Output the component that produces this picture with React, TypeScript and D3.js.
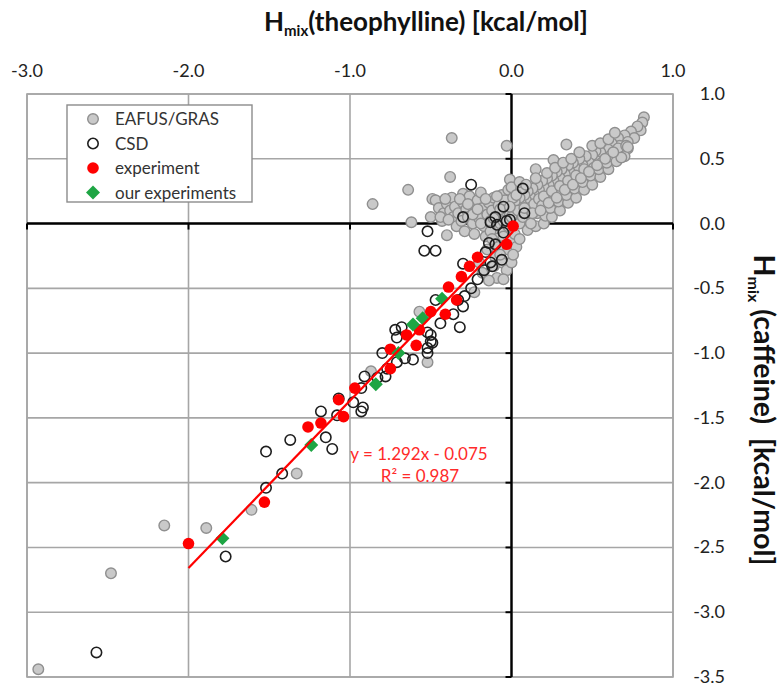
import * as d3 from "d3";

// EAFUS/GRAS coformers [theophylline, caffeine] in kcal/mol
const eafusGras: [number, number][] = [
  [0.82, 0.82], [0.81, 0.78], [0.8, 0.72], [0.78, 0.75], [0.74, 0.71], [0.76, 0.66], [0.7, 0.68], [0.72, 0.63],
  [0.72, 0.58], [0.66, 0.66], [0.68, 0.55], [0.67, 0.6], [0.62, 0.62], [0.64, 0.52], [0.58, 0.56], [0.6, 0.57],
  [0.57, 0.5], [0.55, 0.55], [0.52, 0.56], [0.53, 0.48], [0.5, 0.53], [0.48, 0.47], [0.46, 0.52], [0.44, 0.45],
  [0.42, 0.5], [0.4, 0.42], [0.38, 0.47], [0.36, 0.4], [0.35, 0.45], [0.33, 0.38], [0.31, 0.42], [0.3, 0.35],
  [0.28, 0.4], [0.26, 0.33], [0.25, 0.37], [0.23, 0.3], [0.22, 0.35], [0.2, 0.28], [0.19, 0.33], [0.17, 0.26],
  [0.16, 0.3], [0.14, 0.22], [0.13, 0.27], [0.12, 0.2], [0.1, 0.25], [0.09, 0.18], [0.08, 0.22], [0.06, 0.15],
  [0.05, 0.2], [0.03, 0.12], [0.02, 0.17],
  [0.34, 0.61], [0.26, 0.49], [0.15, 0.42], [-0.37, 0.66], [-0.03, 0.6], [-0.01, 0.34], [-0.38, 0.36],
  [-0.64, 0.26], [-0.49, 0.19], [-0.86, 0.15], [-0.62, 0.01], [-0.4, -0.09], [-0.52, -1.07], [-0.87, -1.14],
  [-0.57, -0.68], [-0.09, -0.42],
  [-2.15, -2.33], [-1.89, -2.35], [-2.48, -2.7], [-2.93, -3.44], [-1.61, -2.21], [-1.33, -1.93],
  [-0.5, 0.05], [-0.47, 0.18], [-0.45, 0.12], [-0.43, 0.02], [-0.42, 0.08], [-0.4, 0.15], [-0.38, 0.1],
  [-0.37, 0.2], [-0.36, 0.05], [-0.35, 0.13], [-0.34, -0.02], [-0.33, 0.08], [-0.31, 0.02], [-0.3, 0.16],
  [-0.3, 0.23], [-0.29, -0.06], [-0.28, 0.11], [-0.27, 0.05], [-0.26, 0.21], [-0.25, 0.14], [-0.24, 0.0],
  [-0.23, -0.08], [-0.22, 0.09], [-0.21, 0.18], [-0.2, 0.04], [-0.19, 0.24], [-0.18, 0.12], [-0.17, -0.02],
  [-0.16, -0.1], [-0.15, 0.07], [-0.14, 0.16], [-0.13, 0.02], [-0.12, 0.1], [-0.11, 0.2], [-0.1, -0.04],
  [-0.09, 0.05], [-0.08, 0.14], [-0.07, 0.0], [-0.06, 0.09], [-0.06, 0.22], [-0.05, -0.06], [-0.04, 0.04],
  [-0.03, 0.12], [-0.02, -0.02], [-0.02, 0.26], [-0.01, 0.07], [-0.04, 0.18],
  [-0.44, 0.05], [-0.41, 0.19], [-0.39, 0.03], [-0.32, 0.19], [-0.27, 0.15], [-0.24, 0.07], [-0.21, 0.11],
  [-0.19, 0.0], [-0.16, 0.19], [-0.13, -0.06], [-0.11, 0.04], [-0.09, 0.21], [-0.07, 0.11], [-0.05, 0.02],
  [-0.12, -0.12], [-0.08, -0.18], [-0.05, -0.1], [-0.02, -0.2], [0.0, -0.12], [-0.15, -0.2], [-0.1, -0.26],
  [-0.06, -0.3], [-0.03, -0.36], [0.0, -0.3], [-0.2, -0.3], [-0.18, -0.38], [-0.14, -0.44], [-0.05, -0.43],
  [-0.23, -0.53], [0.02, -0.08], [0.03, -0.18], [0.05, -0.12], [-0.11, -0.33], [-0.07, -0.24], [0.01, -0.24],
  [0.0, 0.05], [0.01, 0.2], [0.0, 0.28], [0.05, 0.0], [0.04, 0.1], [0.06, 0.27], [0.05, 0.32], [0.1, -0.05],
  [0.1, 0.05], [0.11, 0.12], [0.09, 0.3], [0.15, -0.02], [0.16, 0.08], [0.14, 0.15], [0.15, 0.35], [0.17, 0.19],
  [0.2, 0.0], [0.21, 0.06], [0.19, 0.14], [0.2, 0.21], [0.22, 0.39], [0.25, 0.05], [0.24, 0.12], [0.26, 0.18],
  [0.25, 0.25], [0.27, 0.43], [0.3, 0.1], [0.29, 0.17], [0.31, 0.23], [0.3, 0.29], [0.32, 0.47], [0.35, 0.16],
  [0.34, 0.22], [0.36, 0.28], [0.35, 0.33], [0.37, 0.5], [0.4, 0.2], [0.39, 0.27], [0.41, 0.33], [0.4, 0.37],
  [0.42, 0.55], [0.45, 0.26], [0.44, 0.32], [0.46, 0.38], [0.45, 0.42], [0.5, 0.3], [0.49, 0.37], [0.51, 0.43],
  [0.5, 0.6], [0.55, 0.36], [0.54, 0.42], [0.56, 0.47], [0.55, 0.62], [0.6, 0.42], [0.59, 0.47], [0.61, 0.52],
  [0.6, 0.65], [0.65, 0.48], [0.66, 0.58], [0.64, 0.7], [0.7, 0.52], [0.71, 0.6], [0.68, 0.51], [0.72, 0.59],
  [0.07, 0.05], [0.12, 0.0], [0.08, 0.12], [0.03, 0.22], [-0.01, 0.13], [0.13, 0.08], [0.18, 0.1], [0.23, 0.16],
  [0.28, 0.2], [0.33, 0.26], [0.38, 0.3], [0.43, 0.35], [0.48, 0.4], [0.53, 0.45], [0.58, 0.5], [0.63, 0.55],
];

// CSD cocrystals
const csd: [number, number][] = [
  [-0.25, 0.3], [0.07, 0.27], [-0.05, 0.13], [-0.1, 0.05], [-0.3, 0.05], [0.08, 0.08], [-0.01, 0.03],
  [-0.13, 0.01], [-0.03, 0.02], [-0.09, -0.01], [-0.52, -0.06], [-0.05, -0.07], [-0.54, -0.21], [-0.47, -0.21],
  [-0.14, -0.15], [-0.1, -0.16], [-0.16, -0.22], [-0.06, -0.28], [-0.3, -0.31], [-0.13, -0.3], [-0.12, -0.33],
  [-0.17, -0.36], [-0.21, -0.43], [-0.25, -0.5], [-0.29, -0.56], [-0.33, -0.59], [-0.47, -0.59], [-0.3, -0.64],
  [-0.36, -0.7], [-0.44, -0.77], [-0.32, -0.8], [-0.5, -0.86], [-0.52, -0.96], [-0.5, -0.91], [-0.68, -0.8],
  [-0.71, -0.88], [-0.52, -0.84], [-0.49, -0.92], [-0.8, -1.0], [-0.52, -1.0], [-0.61, -1.05], [-0.71, -1.07],
  [-0.77, -1.12], [-0.78, -1.18], [-0.91, -1.18], [-0.83, -1.19], [-0.93, -1.27], [-0.98, -1.38], [-0.92, -1.42],
  [-1.07, -1.35], [-0.93, -1.45], [-1.18, -1.45], [-1.08, -1.48], [-1.15, -1.65], [-1.37, -1.67], [-1.11, -1.74],
  [-1.52, -1.76], [-1.42, -1.93], [-1.52, -2.04], [-1.77, -2.57], [-2.57, -3.31], [-0.72, -0.82], [-0.66, -1.04],
];

// literature experiments
const experiment: [number, number][] = [
  [0.01, -0.02], [-0.03, -0.16], [-0.21, -0.26], [-0.26, -0.33], [-0.31, -0.41], [-0.39, -0.49], [-0.34, -0.59],
  [-0.41, -0.7], [-0.5, -0.68], [-0.57, -0.82], [-0.65, -0.86], [-0.59, -0.94], [-0.75, -0.97], [-0.75, -1.12],
  [-0.97, -1.27], [-1.07, -1.36], [-1.04, -1.49], [-1.18, -1.54], [-1.26, -1.57], [-1.53, -2.15], [-2.0, -2.47],
];

// our experiments
const ourExperiments: [number, number][] = [
  [-0.43, -0.58], [-0.55, -0.73], [-0.61, -0.78], [-0.7, -1.0], [-0.84, -1.24], [-1.24, -1.71], [-1.79, -2.43],
];

const xTicks = [-3, -2, -1, 0, 1];
const yTicks = [1, 0.5, 0, -0.5, -1, -1.5, -2, -2.5, -3, -3.5];
const slope = 1.292;
const intercept = -0.075;
const fitRange = [-2.0, 0.01];

const legendItems = ["EAFUS/GRAS", "CSD", "experiment", "our experiments"];

const FONT = "Lato, 'Open Sans', sans-serif";

export default function App() {
  const width = 782;
  const height = 683;
  const x = d3.scaleLinear().domain([-3, 1]).range([27, 673]);
  const y = d3.scaleLinear().domain([1, -3.5]).range([94, 677]);

  const gridColor = "#a6a6a6";
  const diamond = d3.symbol(d3.symbolSquare, 98)()!;
  const fitLine = d3.line<number>().x(d => x(d)).y(d => y(slope * d + intercept))(fitRange)!;

  const drawMarker = (i: number, cx: number, cy: number, key?: string) => {
    if (i === 0) return <circle key={key} cx={cx} cy={cy} r={5.3} fill="#c9c9c9" stroke="#8f8f8f" strokeWidth={1.4} />;
    if (i === 1) return <circle key={key} cx={cx} cy={cy} r={5.2} fill="none" stroke="#1e1e1e" strokeWidth={1.6} />;
    if (i === 2) return <circle key={key} cx={cx} cy={cy} r={5.8} fill="#ff0000" />;
    return <path key={key} d={diamond} transform={`translate(${cx},${cy}) rotate(45)`} fill="#1ea544" />;
  };

  return (
    <svg width={width} height={height} style={{ position: "absolute", left: 0, top: 0, background: "#fff" }} fontFamily={FONT}>
      {/* top title */}
      <text x={426} y={31} textAnchor="middle" fontSize={26} fontWeight={700} fill="#111">
        H<tspan fontSize={15} dy={5}>mix</tspan><tspan dy={-5}>(theophylline) [kcal/mol]</tspan>
      </text>

      {/* x tick labels (top) */}
      {xTicks.map(t => (
        <text key={t} x={x(t)} y={77} textAnchor="middle" fontSize={18} fill="#222">{t.toFixed(1)}</text>
      ))}

      {/* y tick labels (right) */}
      {yTicks.map(t => (
        <text key={t} x={725} y={y(t) + 6} textAnchor="end" fontSize={18} fill="#222">{t.toFixed(1)}</text>
      ))}

      {/* right title */}
      <text transform="translate(754,410) rotate(90)" textAnchor="middle" fontSize={28.5} fontWeight={700} fill="#111">
        H<tspan fontSize={16} dy={6}>mix</tspan><tspan dy={-6}>{" (caffeine)\u00a0 [kcal/mol]"}</tspan>
      </text>

      {/* grid */}
      {xTicks.map(t => (
        <line key={"gx" + t} x1={x(t)} x2={x(t)} y1={y(1)} y2={y(-3.5)} stroke={gridColor} strokeWidth={1.6} />
      ))}
      {yTicks.map(t => (
        <line key={"gy" + t} x1={x(-3)} x2={x(1)} y1={y(t)} y2={y(t)} stroke={gridColor} strokeWidth={1.6} />
      ))}
      <rect x={x(-3)} y={y(1)} width={x(1) - x(-3)} height={y(-3.5) - y(1)} fill="none" stroke={gridColor} strokeWidth={1.6} />

      {/* black axes through zero */}
      <line x1={x(-3)} x2={x(1)} y1={y(0)} y2={y(0)} stroke="#000" strokeWidth={2.4} />
      {xTicks.map(t => (
        <line key={"tx" + t} x1={x(t)} x2={x(t)} y1={y(0)} y2={y(0) + 6} stroke="#000" strokeWidth={2} />
      ))}
      <line x1={x(0)} x2={x(0)} y1={y(1)} y2={y(-3.5)} stroke="#000" strokeWidth={2.4} />
      {yTicks.map(t => (
        <line key={"ty" + t} x1={x(0) - 6} x2={x(0)} y1={y(t)} y2={y(t)} stroke="#000" strokeWidth={2} />
      ))}

      {/* points */}
      <g>{eafusGras.map((d, i) => drawMarker(0, x(d[0]), y(d[1]), "g" + i))}</g>
      <g>{csd.map((d, i) => drawMarker(1, x(d[0]), y(d[1]), "c" + i))}</g>
      <g>{experiment.map((d, i) => drawMarker(2, x(d[0]), y(d[1]), "e" + i))}</g>
      <g>{ourExperiments.map((d, i) => drawMarker(3, x(d[0]), y(d[1]), "o" + i))}</g>

      {/* trendline */}
      <path d={fitLine} fill="none" stroke="#ff0000" strokeWidth={2.2} />
      <text x={419} y={460} textAnchor="middle" fontSize={17} fill="#ff2a2a">y = 1.292x - 0.075</text>
      <text x={420} y={482} textAnchor="middle" fontSize={17} fill="#ff2a2a">R² = 0.987</text>

      {/* legend */}
      <rect x={67} y={105} width={185} height={97} fill="#fff" stroke="#8c8c8c" strokeWidth={1.4} />
      {legendItems.map((name, i) => (
        <g key={name}>
          {drawMarker(i, 93, 119 + i * 24.5)}
          <text x={115} y={125 + i * 24.5} fontSize={17} fill="#333">{name}</text>
        </g>
      ))}
    </svg>
  );
}
